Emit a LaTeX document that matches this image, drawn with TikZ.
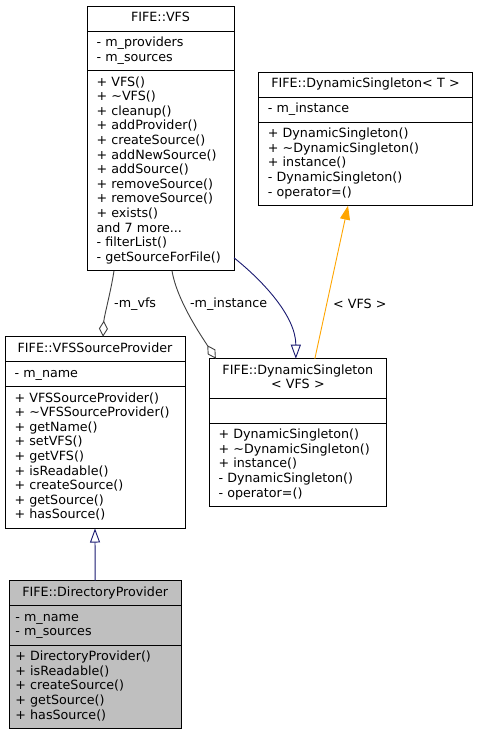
\documentclass[tikz,border=0pt]{standalone}
\usepackage{fontspec}
\setmainfont{DejaVu Sans}
\usetikzlibrary{arrows.meta,positioning}
\usepackage{xcolor}
\newcommand{\dxfont}{\fontsize{12.7}{14.6}\selectfont}
\definecolor{inhblue}{HTML}{191970}
\definecolor{usegray}{HTML}{404040}
\definecolor{tmplorange}{HTML}{FFA500}
\colorlet{focusgray}{black!25}
\tikzset{
    partsty/.style={draw=black, line width=1pt, fill=white, rectangle, anchor=north west, outer sep=0pt, inner xsep=9.5pt, inner ysep=5.2pt, font=\dxfont, execute at begin node=\strut, execute at end node=\strut},
    titlesty/.style={partsty, align=center, text width=#1},
    membsty/.style={partsty, align=left, text width=#1},
    focussty/.style={fill=focusgray, inner xsep=6pt},
    inhsty/.style={draw=inhblue, line width=0.9pt, -{Triangle[open, length=14pt, width=10pt]}},
    usesty/.style={draw=usegray, line width=0.9pt, -{Diamond[open, length=16pt, width=9pt]}},
    tmplsty/.style={draw=tmplorange, line width=0.9pt, -{Triangle[length=14pt, width=10pt, fill=tmplorange]}},
    lblsty/.style={font=\dxfont, text=black, inner sep=0pt},
}

\begin{document}
\begin{tikzpicture}[x=1pt, y=-1pt]
  \useasboundingbox (0,0) rectangle (478,736);

  \node[titlesty=128pt] (vfs) at (87,6) {FIFE::VFS};
  \node[membsty=128pt, below=0pt of vfs] (vfsA) {- m\_providers\\- m\_sources};
  \node[membsty=128pt, below=0pt of vfsA] (vfsO) {+ VFS()\\+ \textasciitilde VFS()\\+ cleanup()\\+ addProvider()\\+ createSource()\\+ addNewSource()\\+ addSource()\\+ removeSource()\\+ removeSource()\\+ exists()\\and 7 more...\\- filterList()\\- getSourceForFile()};

  \node[titlesty=195.4pt] (dst) at (258.3,72.3) {FIFE::DynamicSingleton< T >};
  \node[membsty=195.4pt, below=0pt of dst] (dstA) {- m\_instance};
  \node[membsty=195.4pt, below=0pt of dstA] (dstO) {+ DynamicSingleton()\\+ \textasciitilde DynamicSingleton()\\+ instance()\\- DynamicSingleton()\\- operator=()};

  \node[titlesty=161pt] (vsp) at (5,336.7) {FIFE::VFSSourceProvider};
  \node[membsty=161pt, below=0pt of vsp] (vspA) {- m\_name};
  \node[membsty=161pt, below=0pt of vspA] (vspO) {+ VFSSourceProvider()\\+ \textasciitilde VFSSourceProvider()\\+ getName()\\+ setVFS()\\+ getVFS()\\+ isReadable()\\+ createSource()\\+ getSource()\\+ hasSource()};

  \node[titlesty=158.7pt] (dsv) at (209,358.7) {FIFE::DynamicSingleton\\< VFS >};
  \node[membsty=158.7pt, below=0pt of dsv] (dsvA) {};
  \node[membsty=158.7pt, below=0pt of dsvA] (dsvO) {+ DynamicSingleton()\\+ \textasciitilde DynamicSingleton()\\+ instance()\\- DynamicSingleton()\\- operator=()};

  \node[titlesty=159.7pt, focussty] (dip) at (9.3,580.7) {FIFE::DirectoryProvider};
  \node[membsty=159.7pt, focussty, below=0pt of dip] (dipA) {- m\_name\\- m\_sources};
  \node[membsty=159.7pt, focussty, below=0pt of dipA] (dipO) {+ DirectoryProvider()\\+ isReadable()\\+ createSource()\\+ getSource()\\+ hasSource()};

  \draw[usesty] ([xshift=-46.5pt]vfsO.south) .. controls +(-3,20) and +(1,-20) .. ([xshift=8pt]vsp.north) node[lblsty, pos=0.5, right=6pt]{-m\_vfs};
  \draw[usesty] ([xshift=11.5pt]vfsO.south) .. controls +(5,30) and +(-14,-22) .. ([xshift=-82pt]dsv.north) node[lblsty, pos=0.36, right=6pt]{-m\_instance};
  \draw[inhsty] ([yshift=13pt]vfsO.south east) .. controls +(30,24) and +(0,-42) .. ([xshift=-2pt]dsv.north);
  \draw[tmplsty] ([xshift=17pt]dsv.north) -- ([xshift=-17.5pt]dstO.south) node[lblsty, pos=0.36, right=6pt]{< VFS >};
  \draw[inhsty] (dip.north) -- (vspO.south);
\end{tikzpicture}
\end{document}
